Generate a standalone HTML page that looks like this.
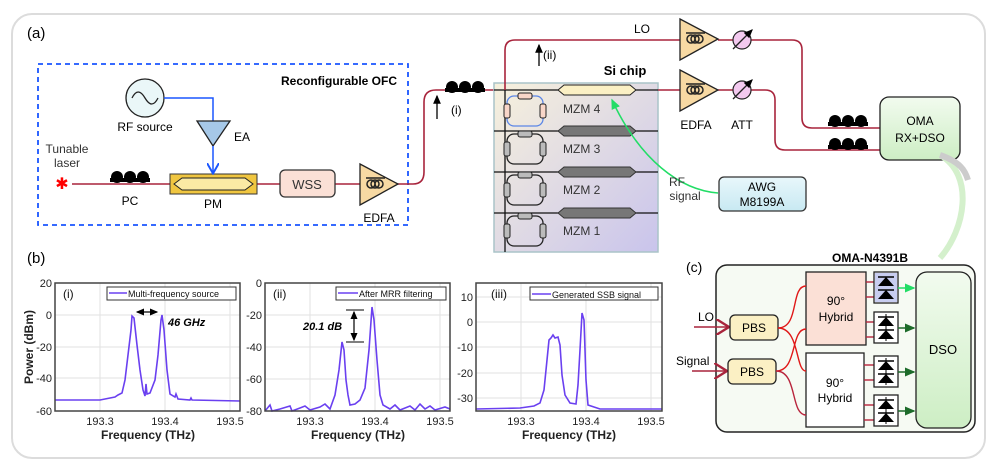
<!DOCTYPE html>
<html><head><meta charset="utf-8"><style>
html,body{margin:0;padding:0;background:#fff}
svg{display:block;font-family:"Liberation Sans",sans-serif}
</style></head><body>
<svg width="996" height="473" viewBox="0 0 996 473" xmlns="http://www.w3.org/2000/svg">
<defs>
<linearGradient id="chip" x1="0" y1="0" x2="1" y2="1"><stop offset="0" stop-color="#f7f1dc"/><stop offset="1" stop-color="#c9c4ec"/></linearGradient>
<linearGradient id="grn" x1="0" y1="0" x2="0" y2="1"><stop offset="0" stop-color="#f2fbef"/><stop offset="1" stop-color="#cdeec4"/></linearGradient>
<linearGradient id="awg" x1="0" y1="0" x2="0" y2="1"><stop offset="0" stop-color="#e8f7fb"/><stop offset="1" stop-color="#c8e9f2"/></linearGradient>
<marker id="ab" markerWidth="8" markerHeight="8" refX="6" refY="4" orient="auto"><path d="M0,0 L7,4 L0,8" fill="none" stroke="#1a56ff" stroke-width="1.3"/></marker>
<marker id="ak" markerWidth="8" markerHeight="8" refX="6" refY="4" orient="auto-start-reverse"><path d="M0,1 L7,4 L0,7z" fill="#000"/></marker>
<marker id="adg" markerWidth="8" markerHeight="8" refX="6" refY="4" orient="auto"><path d="M0,1 L7,4 L0,7z" fill="#1d6b2a"/></marker>
<marker id="alg" markerWidth="8" markerHeight="8" refX="6" refY="4" orient="auto"><path d="M0,1 L7,4 L0,7z" fill="#22dd66"/></marker>
<marker id="ar" markerWidth="10" markerHeight="10" refX="8" refY="5" orient="auto"><path d="M0,0 L8,5 L0,10" fill="none" stroke="#a8243c" stroke-width="1.5"/></marker>
<g id="pc"><rect x="0" y="4" width="40" height="4" fill="#000"/><circle cx="7" cy="3" r="6" fill="#000"/><circle cx="20" cy="3" r="6" fill="#000"/><circle cx="33" cy="3" r="6" fill="#000"/></g>
<g id="amp"><path d="M0,0 L38,20 L0,41z" fill="#f7d9a3" stroke="#222" stroke-width="1.3"/><circle cx="11" cy="20" r="4" fill="none" stroke="#222" stroke-width="1.5"/><circle cx="15" cy="20" r="4" fill="none" stroke="#222" stroke-width="1.5"/><circle cx="19" cy="20" r="4" fill="none" stroke="#222" stroke-width="1.5"/><line x1="6" y1="14" x2="25" y2="14" stroke="#222" stroke-width="1.5"/></g>
<g id="att"><circle cx="0" cy="0" r="9" fill="#f3c9ef" stroke="#222" stroke-width="1.2"/><line x1="-9" y1="9" x2="10" y2="-10" stroke="#222" stroke-width="1.3" marker-end="url(#ak)"/></g>
<g id="ring"><rect x="0" y="0" width="36" height="30" rx="7" fill="none" stroke="#222" stroke-width="1.3"/><rect x="11" y="-3" width="14" height="6" rx="2" fill="#bbb" stroke="#222"/><rect x="-3" y="8" width="6" height="14" rx="2" fill="#bbb" stroke="#222"/><rect x="33" y="8" width="6" height="14" rx="2" fill="#bbb" stroke="#222"/></g>
<g id="pd"><rect x="0" y="0" width="24" height="31" fill="#fff" stroke="#222" stroke-width="1.3"/><path d="M4,14 L20,14 L12,5z M4,27 L20,27 L12,18z" fill="#000"/><line x1="4" y1="5" x2="20" y2="5" stroke="#000" stroke-width="1.5"/><line x1="4" y1="18" x2="20" y2="18" stroke="#000" stroke-width="1.5"/><line x1="12" y1="2" x2="12" y2="29" stroke="#000"/></g>
</defs>

<rect x="12" y="14" width="973" height="444" rx="20" fill="#fff" stroke="#dcdcdc" stroke-width="2"/>
<text x="27" y="38" font-size="15">(a)</text>
<text x="27" y="263" font-size="15">(b)</text>
<text x="686" y="272" font-size="14">(c)</text>

<!-- OFC -->
<rect x="38" y="64" width="370" height="161" fill="none" stroke="#1a56ff" stroke-width="1.8" stroke-dasharray="5,4"/>
<text x="397" y="85" font-size="12" font-weight="bold" text-anchor="end">Reconfigurable OFC</text>
<path d="M72,184 L413,184 Q424,184 424,172 L424,102 Q424,90 436,90 L494,90" fill="none" stroke="#a8243c" stroke-width="1.6"/>
<text x="62" y="189" font-size="16" fill="#f00" text-anchor="middle">✱</text>
<text x="67" y="153" font-size="12" text-anchor="middle" fill="#333">Tunable</text>
<text x="67" y="167" font-size="12" text-anchor="middle" fill="#333">laser</text>
<use href="#pc" x="110" y="174"/>
<text x="130" y="205" font-size="12" text-anchor="middle">PC</text>
<rect x="170" y="174" width="87" height="20" fill="#f0c640" stroke="#333"/>
<path d="M174,184 L182,178 L245,178 L253,184 L245,190 L182,190z" fill="#fbeaa4" stroke="#222"/>
<text x="213" y="208" font-size="12" text-anchor="middle">PM</text>
<rect x="280" y="170" width="55" height="27" rx="5" fill="#fbe0d6" stroke="#333" stroke-width="1.3"/>
<text x="307" y="189" font-size="13" text-anchor="middle" fill="#333">WSS</text>
<use href="#amp" x="360" y="164"/>
<text x="379" y="222" font-size="12" text-anchor="middle">EDFA</text>
<circle cx="145" cy="98" r="19" fill="#eaf7f8" stroke="#222" stroke-width="1.3"/>
<path d="M132,98 Q138,86 145,98 Q152,110 158,98" fill="none" stroke="#222" stroke-width="1.3"/>
<text x="145" y="131" font-size="12" text-anchor="middle">RF source</text>
<path d="M164,98 L213,98 L213,122" fill="none" stroke="#1a56ff" stroke-width="1.5"/>
<path d="M197,121 L230,121 L213,146z" fill="#a6c8e8" stroke="#222" stroke-width="1.3"/>
<text x="234" y="141" font-size="12">EA</text>
<path d="M213,146 L213,172" fill="none" stroke="#1a56ff" stroke-width="1.5" marker-end="url(#ab)"/>
<use href="#pc" x="445" y="84"/>
<line x1="437" y1="119" x2="437" y2="96" stroke="#000" stroke-width="1.3" marker-end="url(#ak)"/>
<text x="451" y="114" font-size="12">(i)</text>

<!-- chip -->
<rect x="494" y="83" width="164" height="169" fill="url(#chip)" stroke="#aac4c8" stroke-width="1.5"/>
<text x="625" y="75" font-size="13" font-weight="bold" text-anchor="middle">Si chip</text>
<g stroke="#111" stroke-width="1.3">
<line x1="494" y1="90" x2="658" y2="90"/>
<line x1="494" y1="131" x2="658" y2="131"/>
<line x1="494" y1="172" x2="658" y2="172"/>
<line x1="494" y1="213" x2="658" y2="213"/>
<line x1="505" y1="90" x2="505" y2="252"/>
</g>
<path d="M505,90 L505,50 Q505,40 515,40 L680,40" fill="none" stroke="#a8243c" stroke-width="1.6"/>
<g>
<rect x="507" y="96" width="36" height="30" rx="7" fill="none" stroke="#5b86e6" stroke-width="1.3"/>
<rect x="518" y="93" width="14" height="6" rx="2" fill="#f8d6c8" stroke="#222"/>
<rect x="504" y="104" width="6" height="14" rx="2" fill="#f8d6c8" stroke="#222"/>
<rect x="540" y="104" width="6" height="14" rx="2" fill="#f8d6c8" stroke="#222"/>
</g>
<use href="#ring" x="507" y="134"/>
<use href="#ring" x="507" y="175"/>
<use href="#ring" x="507" y="216"/>
<path d="M558,90 L564,85 L630,85 L636,90 L630,95 L564,95z" fill="#fbf0c4" stroke="#222"/>
<path d="M558,131 L564,126 L630,126 L636,131 L630,136 L564,136z" fill="#777" stroke="#333"/>
<path d="M558,172 L564,167 L630,167 L636,172 L630,177 L564,177z" fill="#777" stroke="#333"/>
<path d="M558,213 L564,208 L630,208 L636,213 L630,218 L564,218z" fill="#777" stroke="#333"/>
<g font-size="12" fill="#333"><text x="563" y="113">MZM 4</text><text x="563" y="153">MZM 3</text><text x="563" y="194">MZM 2</text><text x="563" y="235">MZM 1</text></g>
<line x1="539" y1="66" x2="539" y2="45" stroke="#000" stroke-width="1.3" marker-end="url(#ak)"/>
<text x="543" y="59" font-size="12">(ii)</text>
<text x="642" y="33" font-size="12" text-anchor="middle">LO</text>
<path d="M718,193 C680,190 640,160 612,100" fill="none" stroke="#22dd66" stroke-width="1.5" marker-end="url(#alg)"/>
<text x="677" y="186" font-size="12" fill="#333" text-anchor="middle">RF</text>
<text x="685" y="200" font-size="12" fill="#333" text-anchor="middle">signal</text>
<rect x="719" y="177" width="87" height="34" rx="5" fill="url(#awg)" stroke="#333" stroke-width="1.3"/>
<text x="762" y="191" font-size="12" text-anchor="middle">AWG</text>
<text x="762" y="206" font-size="12" text-anchor="middle">M8199A</text>

<!-- right top -->
<path d="M658,90 L680,90 M718,40 L792,40 Q802,40 802,50 L802,118 Q802,128 812,128 L880,128" fill="none" stroke="#a8243c" stroke-width="1.6"/>
<path d="M718,90 L765,90 Q775,90 775,100 L775,140 Q775,150 785,150 L880,150" fill="none" stroke="#a8243c" stroke-width="1.6"/>
<use href="#amp" x="680" y="19"/>
<use href="#amp" x="680" y="70"/>
<use href="#att" x="742" y="40"/>
<use href="#att" x="742" y="90"/>
<text x="696" y="129" font-size="12" text-anchor="middle">EDFA</text>
<text x="742" y="129" font-size="12" text-anchor="middle">ATT</text>
<use href="#pc" x="828" y="118"/>
<use href="#pc" x="828" y="141"/>
<rect x="880" y="97" width="80" height="63" rx="9" fill="url(#grn)" stroke="#222" stroke-width="1.3"/>
<text x="920" y="125" font-size="12" text-anchor="middle">OMA</text>
<text x="920" y="142" font-size="12" text-anchor="middle">RX+DSO</text>
<path d="M940,155 C975,175 965,230 940,258" fill="none" stroke="#d4f0cc" stroke-width="6"/>
<path d="M940,155 C960,162 965,170 968,180" fill="none" stroke="#ccc" stroke-width="6"/>

<!-- (c) -->
<text x="870" y="262" font-size="12" font-weight="bold" text-anchor="middle">OMA-N4391B</text>
<rect x="716" y="265" width="259" height="167" rx="11" fill="#f6faf3" stroke="#222" stroke-width="1.5"/>
<rect x="916" y="272" width="55" height="156" rx="11" fill="url(#grn)" stroke="#222" stroke-width="1.3"/>
<text x="943" y="354" font-size="13" text-anchor="middle">DSO</text>
<rect x="806" y="272" width="60" height="73" fill="#fbe0d6" stroke="#222" stroke-width="1.3"/>
<rect x="806" y="353" width="58" height="74" fill="#fff" stroke="#222" stroke-width="1.3"/>
<text x="836" y="305" font-size="12" text-anchor="middle">90°</text><text x="836" y="321" font-size="12" text-anchor="middle">Hybrid</text>
<text x="835" y="387" font-size="12" text-anchor="middle">90°</text><text x="835" y="402" font-size="12" text-anchor="middle">Hybrid</text>
<path d="M694,327 L729,327" stroke="#a8243c" stroke-width="1.6" marker-end="url(#ar)"/>
<path d="M692,371 L727,371" stroke="#a8243c" stroke-width="1.6" marker-end="url(#ar)"/>
<text x="698" y="321" font-size="12">LO</text>
<text x="676" y="365" font-size="12">Signal</text>
<rect x="730" y="315" width="48" height="25" rx="5" fill="#fbf0c4" stroke="#222" stroke-width="1.3"/>
<rect x="728" y="359" width="48" height="25" rx="5" fill="#fbf0c4" stroke="#222" stroke-width="1.3"/>
<text x="754" y="332" font-size="12" text-anchor="middle">PBS</text>
<text x="752" y="376" font-size="12" text-anchor="middle">PBS</text>
<g fill="none" stroke="#e01818" stroke-width="1.4">
<path d="M778,328 C800,328 790,286 806,286"/>
<path d="M778,328 C800,328 795,371 806,371"/>
<path d="M776,371 C798,371 790,329 806,329"/>
<path d="M776,371 C798,371 790,415 806,415" stroke="#b8243c"/>
</g>
<g stroke="#b8243c" stroke-width="1.4">
<line x1="866" y1="282" x2="874" y2="282"/><line x1="866" y1="297" x2="874" y2="297"/>
<line x1="866" y1="322" x2="874" y2="322"/><line x1="866" y1="337" x2="874" y2="337"/>
<line x1="864" y1="365" x2="874" y2="365"/><line x1="864" y1="380" x2="874" y2="380"/>
<line x1="864" y1="405" x2="874" y2="405"/><line x1="864" y1="420" x2="874" y2="420"/>
</g>
<use href="#pd" x="874" y="272"/>
<rect x="875" y="273" width="22" height="29" fill="#c8cdf0"/>
<path d="M878,286 L894,286 L886,277z M878,299 L894,299 L886,290z" fill="#000"/>
<line x1="878" y1="277" x2="894" y2="277" stroke="#000" stroke-width="1.5"/><line x1="878" y1="290" x2="894" y2="290" stroke="#000" stroke-width="1.5"/>
<use href="#pd" x="874" y="312"/>
<use href="#pd" x="874" y="356"/>
<use href="#pd" x="874" y="395"/>
<line x1="898" y1="288" x2="914" y2="288" stroke="#22dd66" stroke-width="1.5" marker-end="url(#alg)"/>
<line x1="898" y1="328" x2="914" y2="328" stroke="#1d6b2a" stroke-width="1.5" marker-end="url(#adg)"/>
<line x1="898" y1="372" x2="914" y2="372" stroke="#1d6b2a" stroke-width="1.5" marker-end="url(#adg)"/>
<line x1="898" y1="411" x2="914" y2="411" stroke="#1d6b2a" stroke-width="1.5" marker-end="url(#adg)"/>

<!-- plots -->
<g stroke="#e2e2e2" stroke-width="1">
<line x1="100" y1="283" x2="100" y2="411"/><line x1="165" y1="283" x2="165" y2="411"/><line x1="230" y1="283" x2="230" y2="411"/>
<line x1="55" y1="315" x2="240" y2="315"/><line x1="55" y1="347" x2="240" y2="347"/><line x1="55" y1="378" x2="240" y2="378"/>
<line x1="310" y1="283" x2="310" y2="411"/><line x1="375" y1="283" x2="375" y2="411"/><line x1="440" y1="283" x2="440" y2="411"/>
<line x1="265" y1="315" x2="450" y2="315"/><line x1="265" y1="347" x2="450" y2="347"/><line x1="265" y1="379" x2="450" y2="379"/>
<line x1="521" y1="283" x2="521" y2="411"/><line x1="586" y1="283" x2="586" y2="411"/><line x1="651" y1="283" x2="651" y2="411"/>
<line x1="476" y1="297" x2="662" y2="297"/><line x1="476" y1="322" x2="662" y2="322"/><line x1="476" y1="347" x2="662" y2="347"/><line x1="476" y1="373" x2="662" y2="373"/><line x1="476" y1="398" x2="662" y2="398"/>
</g>
<g fill="none" stroke="#6a40f0" stroke-width="1.6">
<path d="M55,400 L100,400 L115,397 L118,395 L122,393 L125,380 L128,355 L131,330 L132,316 L134,318 L137,345 L140,370 L143,390 L145,396 L146,384 L147,394 L150,393 L155,380 L158,355 L161,320 L162,315 L164,330 L167,370 L170,394 L175,397 L176,394 L178,399 L190,400 L191,398 L192,400 L240,401"/>
<path d="M265,411 L270,405 L272,411 L280,409 L290,406 L292,411 L300,408 L305,406 L310,410 L320,407 L325,404 L330,409 L335,395 L339,370 L342,342 L344,350 L346,380 L348,395 L350,405 L355,404 L360,400 L365,388 L369,350 L372,307 L374,320 L377,360 L380,395 L383,405 L390,409 L395,405 L400,410 L410,406 L415,410 L420,404 L425,409 L430,406 L435,410 L445,407 L450,409"/>
<path d="M476,409 L520,408 L534,406 L540,403 L544,390 L547,360 L549,340 L551,338 L553,335 L555,338 L558,337 L560,345 L562,375 L565,395 L570,403 L576,404 L578,385 L580,350 L582,313 L584,320 L586,380 L588,405 L600,409 L662,409"/>
</g>
<g fill="none" stroke="#444" stroke-width="1.5">
<rect x="55" y="283" width="185" height="128"/>
<rect x="265" y="283" width="185" height="128"/>
<rect x="476" y="283" width="186" height="128"/>
</g>
<g font-size="11" fill="#222" text-anchor="end">
<text x="52" y="287">20</text><text x="52" y="319">0</text><text x="52" y="351">-20</text><text x="52" y="382">-40</text><text x="52" y="415">-60</text>
<text x="262" y="287">0</text><text x="262" y="319">-20</text><text x="262" y="351">-40</text><text x="262" y="383">-60</text><text x="262" y="415">-80</text>
<text x="473" y="301">10</text><text x="473" y="326">0</text><text x="473" y="351">-10</text><text x="473" y="377">-20</text><text x="473" y="402">-30</text>
</g>
<g font-size="11" fill="#222" text-anchor="middle">
<text x="100" y="425">193.3</text><text x="165" y="425">193.4</text><text x="230" y="425">193.5</text>
<text x="310" y="425">193.3</text><text x="375" y="425">193.4</text><text x="440" y="425">193.5</text>
<text x="521" y="425">193.3</text><text x="586" y="425">193.4</text><text x="651" y="425">193.5</text>
</g>
<g font-size="12" font-weight="bold" fill="#222" text-anchor="middle">
<text x="148" y="439">Frequency (THz)</text><text x="358" y="439">Frequency (THz)</text><text x="569" y="439">Frequency (THz)</text>
<text transform="translate(33,347) rotate(-90)">Power (dBm)</text>
</g>
<g font-size="12" fill="#111"><text x="63" y="298">(i)</text><text x="273" y="298">(ii)</text><text x="491" y="298">(iii)</text></g>
<g font-size="9" fill="#111">
<rect x="107" y="287" width="129" height="13" fill="#fff" stroke="#333"/><line x1="109" y1="293" x2="127" y2="293" stroke="#6a40f0" stroke-width="1.5"/><text x="128" y="297">Multi-frequency source</text>
<rect x="336" y="287" width="110" height="13" fill="#fff" stroke="#333"/><line x1="338" y1="293" x2="358" y2="293" stroke="#6a40f0" stroke-width="1.5"/><text x="359" y="297">After MRR filtering</text>
<rect x="530" y="287" width="128" height="13" fill="#fff" stroke="#333"/><line x1="532" y1="294" x2="551" y2="294" stroke="#6a40f0" stroke-width="1.5"/><text x="552" y="298">Generated SSB signal</text>
</g>
<line x1="137" y1="312" x2="157" y2="312" stroke="#000" stroke-width="1.2" marker-start="url(#ak)" marker-end="url(#ak)"/>
<text x="168" y="326" font-size="11" font-weight="bold" font-style="italic">46 GHz</text>
<line x1="346" y1="310" x2="364" y2="310" stroke="#000"/><line x1="346" y1="342" x2="364" y2="342" stroke="#000"/>
<line x1="354" y1="326" x2="354" y2="312" stroke="#000" stroke-width="1.2" marker-end="url(#ak)"/>
<line x1="354" y1="326" x2="354" y2="340" stroke="#000" stroke-width="1.2" marker-end="url(#ak)"/>
<text x="303" y="330" font-size="11" font-weight="bold" font-style="italic">20.1 dB</text>
</svg>
</body></html>
